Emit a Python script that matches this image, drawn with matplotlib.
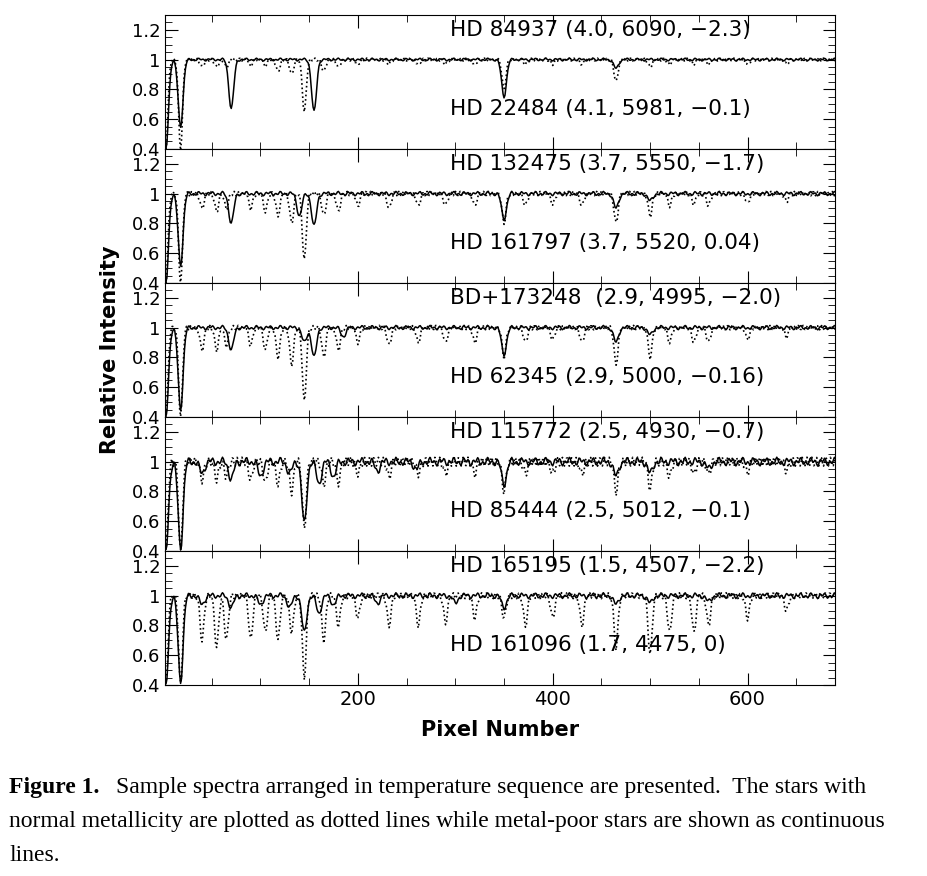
import matplotlib
matplotlib.use("Agg")
import matplotlib.pyplot as plt
import numpy as np

# pixel grid of the spectra
pixels = np.arange(0, 700)

# per panel: labels (top = metal-poor / solid, bottom = normal / dotted)
top_labels = ["HD 84937 (4.0, 6090, \u22122.3)", "HD 132475 (3.7, 5550, \u22121.7)",
              "BD+173248  (2.9, 4995, \u22122.0)", "HD 115772 (2.5, 4930, \u22120.7)",
              "HD 165195 (1.5, 4507, \u22122.2)"]
bottom_labels = ["HD 22484 (4.1, 5981, \u22120.1)", "HD 161797 (3.7, 5520, 0.04)",
                 "HD 62345 (2.9, 5000, \u22120.16)", "HD 85444 (2.5, 5012, \u22120.1)",
                 "HD 161096 (1.7, 4475, 0)"]

# absorption lines: centres (pixel) and depths
solid_centres = [
    [3, 18, 70, 155, 350, 465],
    [3, 18, 70, 140, 155, 350, 465, 500],
    [3, 18, 70, 145, 155, 185, 350, 465, 500],
    [3, 18, 40, 70, 100, 130, 145, 160, 175, 220, 260, 350, 465, 500, 560],
    [3, 18, 40, 70, 100, 130, 145, 160, 175, 220, 300, 350, 465, 500, 560],
]
solid_depths = [
    [0.6, 0.45, 0.33, 0.35, 0.25, 0.06],
    [0.6, 0.48, 0.2, 0.15, 0.22, 0.17, 0.1, 0.05],
    [0.6, 0.55, 0.15, 0.1, 0.2, 0.06, 0.18, 0.1, 0.05],
    [0.6, 0.58, 0.08, 0.12, 0.1, 0.08, 0.42, 0.15, 0.1, 0.06, 0.05, 0.15, 0.1, 0.08, 0.05],
    [0.6, 0.58, 0.06, 0.08, 0.06, 0.08, 0.25, 0.12, 0.06, 0.05, 0.05, 0.08, 0.06, 0.05, 0.04],
]
dotted_centres = [40, 55, 65, 90, 105, 118, 132, 145, 165, 180, 200, 232, 262, 290,
                  320, 350, 372, 400, 430, 465, 500, 520, 545, 560, 600, 640]
dotted_depths = [
    [0.05, 0.05, 0.05, 0.04, 0.04, 0.08, 0.1, 0.35, 0.08, 0.05, 0.03, 0.03, 0.03, 0.03,
     0.03, 0.2, 0.03, 0.03, 0.03, 0.15, 0.05, 0.03, 0.03, 0.03, 0.03, 0.03],
    [0.1, 0.12, 0.1, 0.1, 0.12, 0.15, 0.2, 0.45, 0.15, 0.12, 0.08, 0.1, 0.08, 0.08,
     0.08, 0.2, 0.08, 0.07, 0.08, 0.2, 0.15, 0.08, 0.07, 0.08, 0.06, 0.05],
    [0.15, 0.15, 0.12, 0.12, 0.15, 0.2, 0.25, 0.5, 0.2, 0.15, 0.1, 0.12, 0.1, 0.1,
     0.1, 0.2, 0.1, 0.08, 0.1, 0.25, 0.2, 0.1, 0.1, 0.1, 0.08, 0.06],
    [0.12, 0.12, 0.1, 0.12, 0.14, 0.15, 0.2, 0.45, 0.15, 0.14, 0.08, 0.1, 0.08, 0.08,
     0.08, 0.2, 0.08, 0.08, 0.08, 0.2, 0.18, 0.1, 0.08, 0.08, 0.07, 0.06],
    [0.3, 0.35, 0.3, 0.3, 0.25, 0.3, 0.25, 0.55, 0.3, 0.2, 0.15, 0.2, 0.2, 0.18,
     0.15, 0.15, 0.2, 0.15, 0.2, 0.35, 0.4, 0.25, 0.25, 0.2, 0.15, 0.1],
]
dotted_base = [[3, 18], [0.6, 0.6]]
# small-scale ripple amplitude of each panel (cooler stars are rougher)
ripple = [0.01, 0.015, 0.015, 0.03, 0.02]


def spectrum(centres, depths, width):
    flux = np.ones_like(pixels, dtype=float)
    for c, d in zip(centres, depths):
        flux *= 1 - d * np.exp(-0.5 * ((pixels - c) / width) ** 2)
    return flux


fig = plt.figure(figsize=(9.27, 8.76), dpi=100)
serif = ["Liberation Serif", "DejaVu Serif"]
n = 5
left, right, bottom, top = 0.178, 0.901, 0.218, 0.983
h = (top - bottom) / n
wiggle = np.sin(pixels * 0.9) * np.sin(pixels * 0.37 + 1.0)
for i in range(n):
    ax = fig.add_axes([left, top - (i + 1) * h, right - left, h])
    solid = spectrum(solid_centres[i], solid_depths[i], 2.5) + ripple[i] * wiggle
    dotted = spectrum(dotted_base[0] + dotted_centres, dotted_base[1] + dotted_depths[i], 2.0) \
        + ripple[i] * np.sin(pixels * 1.3 + i)
    ax.plot(pixels, dotted, color="k", ls=":", lw=1.2)
    ax.plot(pixels, solid, color="k", lw=1.1)
    ax.set_xlim(2, 690)
    ax.set_ylim(0.4, 1.3)
    ax.set_yticks([0.4, 0.6, 0.8, 1.0, 1.2])
    ax.set_yticklabels(["0.4", "0.6", "0.8", "1", "1.2"], fontsize=13)
    ax.set_yticks(np.arange(0.4, 1.3, 0.05), minor=True)
    ax.set_xticks([200, 400, 600])
    ax.set_xticks(np.arange(50, 700, 50), minor=True)
    ax.tick_params(which="both", direction="in", top=True, right=True)
    ax.tick_params(which="major", length=9)
    ax.tick_params(which="minor", length=5)
    ax.text(295, 1.2, top_labels[i], fontsize=15.5, va="center")
    ax.text(295, 0.67, bottom_labels[i], fontsize=15.5, va="center")
    if i < n - 1:
        ax.set_xticklabels([])
    else:
        ax.set_xticklabels(["200", "400", "600"], fontsize=14)
        ax.set_xlabel("Pixel Number", fontsize=15, fontweight="bold", labelpad=8)
    if i == 2:
        ax.set_ylabel("Relative Intensity", fontsize=15, fontweight="bold", labelpad=8)

fig.text(0.01, 0.095, "Figure 1.", fontsize=17, family=serif, fontweight="bold")
fig.text(0.125, 0.095, "Sample spectra arranged in temperature sequence are presented.  The stars with",
         fontsize=17, family=serif)
fig.text(0.01, 0.056, "normal metallicity are plotted as dotted lines while metal-poor stars are shown as continuous",
         fontsize=17, family=serif)
fig.text(0.01, 0.017, "lines.", fontsize=17, family=serif)
fig.savefig("out.png", dpi=100)
